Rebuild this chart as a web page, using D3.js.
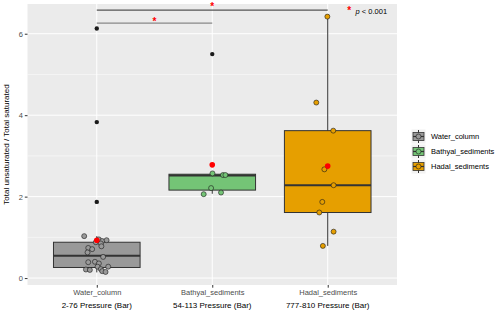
<!DOCTYPE html>
<html>
<head>
<meta charset="utf-8">
<script src="https://cdn.jsdelivr.net/npm/d3@7"></script>
<style>
  body { margin: 0; background: #fff; }
  svg { display: block; font-family: 'Liberation Sans', Arial, sans-serif; }
</style>
</head>
<body>
<div id="chart"></div>
<script>
const groups = ['Water_column', 'Bathyal_sediments', 'Hadal_sediments'];
const pressures = ['2-76 Pressure (Bar)', '54-113 Pressure (Bar)', '777-810 Pressure (Bar)'];
const fills = ['#999999', '#74c476', '#e69f00'];

// box stats: [lower whisker, q1, median, q3, upper whisker]
const boxStats = [
  [0.14, 0.26, 0.55, 0.88, 1.03],
  [2.07, 2.16, 2.52, 2.55, 2.57],
  [0.79, 1.61, 2.28, 3.62, 6.42]
];
const outliers = [[6.13, 3.83, 1.87], [5.5], []];
const means = [0.93, 2.78, 2.75];

// jittered points: [offset in category steps, value]
const waterPoints = [
  [-0.109, 1.03], [0.018, 0.95], [0.047, 0.91], [0.085, 0.93], [-0.008, 0.88],
  [0.035, 0.85], [0.040, 0.78], [-0.074, 0.74], [-0.040, 0.71], [-0.080, 0.63],
  [0.055, 0.52], [-0.074, 0.39], [-0.016, 0.40], [0.018, 0.36], [0.007, 0.28],
  [0.099, 0.28], [-0.094, 0.21], [-0.060, 0.20], [0.035, 0.22], [0.047, 0.17],
  [0.076, 0.15]
];
const bathyalPoints = [
  [-0.074, 2.06], [0.002, 2.57], [-0.010, 2.21], [0.093, 2.53], [0.114, 2.53],
  [0.076, 2.10]
];
const hadalPoints = [
  [-0.003, 6.42], [-0.099, 4.31], [0.048, 3.62], [-0.029, 2.67], [0.051, 2.28],
  [-0.047, 1.87], [-0.073, 1.61], [0.051, 1.14], [-0.042, 0.79]
];
const points = [waterPoints, bathyalPoints, hadalPoints];

const yTicks = [0, 2, 4, 6];
const yMinor = [1, 3, 5];

// significance brackets (group index, value of line, value of star)
const comparisons = [
  { from: 0, to: 1, y: 6.26, star: 6.32, stroke: '#888888' },
  { from: 0, to: 2, y: 6.58, star: 6.67, stroke: '#555555' }
];
const pLabel = 'p < 0.001';

const width = 500;
const height = 315;
const panel = { left: 27.5, right: 397, top: 4, bottom: 285 };

const svg = d3
  .select('#chart')
  .append('svg')
  .attr('width', width)
  .attr('height', height);

const x = d3
  .scalePoint()
  .domain(groups)
  .range([panel.left, panel.right])
  .padding(0.6);
const step = x.step();
const y = d3.scaleLinear().domain([-0.17, 6.73]).range([panel.bottom, panel.top]);

// panel
svg
  .append('rect')
  .attr('x', panel.left)
  .attr('y', panel.top)
  .attr('width', panel.right - panel.left)
  .attr('height', panel.bottom - panel.top)
  .attr('fill', '#ebebeb');

const grid = svg.append('g').attr('stroke', '#fff');
grid
  .selectAll('line.minor')
  .data(yMinor)
  .join('line')
  .attr('class', 'minor')
  .attr('x1', panel.left)
  .attr('x2', panel.right)
  .attr('y1', d => y(d))
  .attr('y2', d => y(d))
  .attr('stroke-width', 0.5);
grid
  .selectAll('line.major')
  .data(yTicks)
  .join('line')
  .attr('class', 'major')
  .attr('x1', panel.left)
  .attr('x2', panel.right)
  .attr('y1', d => y(d))
  .attr('y2', d => y(d))
  .attr('stroke-width', 1);
grid
  .selectAll('line.vert')
  .data(groups)
  .join('line')
  .attr('class', 'vert')
  .attr('x1', d => x(d))
  .attr('x2', d => x(d))
  .attr('y1', panel.top)
  .attr('y2', panel.bottom)
  .attr('stroke-width', 1);

// axes
const yAxis = svg
  .append('g')
  .attr('transform', `translate(${panel.left},0)`)
  .call(
    d3
      .axisLeft(y)
      .tickValues(yTicks)
      .tickFormat(d3.format('d'))
      .tickSize(2.7)
      .tickPadding(2)
  );
const xAxis = svg
  .append('g')
  .attr('transform', `translate(0,${panel.bottom})`)
  .call(d3.axisBottom(x).tickSize(2.7).tickPadding(2));
[yAxis, xAxis].forEach(g => {
  g.select('.domain').remove();
  g.selectAll('line').attr('stroke', '#333');
  g.selectAll('text')
    .attr('fill', '#4d4d4d')
    .style('font-size', '7.5px')
    .style('font-family', "'Liberation Sans', Arial, sans-serif");
});

svg
  .append('g')
  .selectAll('text')
  .data(pressures)
  .join('text')
  .attr('x', (d, i) => x(groups[i]))
  .attr('y', 308)
  .attr('text-anchor', 'middle')
  .style('font-size', '8px')
  .text(d => d);

svg
  .append('text')
  .attr('transform', `translate(9,${(panel.top + panel.bottom) / 2}) rotate(-90)`)
  .attr('text-anchor', 'middle')
  .style('font-size', '8px')
  .text('Total unsaturated / Total saturated');

// boxes
const boxW = step * 0.75;
const boxes = svg
  .append('g')
  .selectAll('g')
  .data(groups)
  .join('g');

boxes
  .append('line')
  .attr('x1', d => x(d))
  .attr('x2', d => x(d))
  .attr('y1', (d, i) => y(boxStats[i][0]))
  .attr('y2', (d, i) => y(boxStats[i][4]))
  .attr('stroke', '#333')
  .attr('stroke-width', 1);
boxes
  .append('rect')
  .attr('x', d => x(d) - boxW / 2)
  .attr('width', boxW)
  .attr('y', (d, i) => y(boxStats[i][3]))
  .attr('height', (d, i) => y(boxStats[i][1]) - y(boxStats[i][3]))
  .attr('fill', (d, i) => fills[i])
  .attr('stroke', '#333')
  .attr('stroke-width', 1);
boxes
  .append('line')
  .attr('x1', d => x(d) - boxW / 2)
  .attr('x2', d => x(d) + boxW / 2)
  .attr('y1', (d, i) => y(boxStats[i][2]))
  .attr('y2', (d, i) => y(boxStats[i][2]))
  .attr('stroke', '#333')
  .attr('stroke-width', 2);

boxes
  .selectAll('circle.outlier')
  .data((d, i) => outliers[i].map(v => [d, v]))
  .join('circle')
  .attr('class', 'outlier')
  .attr('cx', d => x(d[0]))
  .attr('cy', d => y(d[1]))
  .attr('r', 2.2)
  .attr('fill', '#1a1a1a');

boxes
  .selectAll('circle.pt')
  .data((d, i) => points[i].map(p => [d, p[0], p[1], fills[i]]))
  .join('circle')
  .attr('class', 'pt')
  .attr('cx', d => x(d[0]) + d[1] * step)
  .attr('cy', d => y(d[2]))
  .attr('r', 2.5)
  .attr('fill', d => d[3])
  .attr('stroke', '#1a1a1a')
  .attr('stroke-width', 0.6);

boxes
  .append('circle')
  .attr('cx', d => x(d))
  .attr('cy', (d, i) => y(means[i]))
  .attr('r', 2.8)
  .attr('fill', '#ff0000');

// significance brackets
const sig = svg.append('g');
sig
  .selectAll('line')
  .data(comparisons)
  .join('line')
  .attr('x1', d => x(groups[d.from]))
  .attr('x2', d => x(groups[d.to]))
  .attr('y1', d => y(d.y))
  .attr('y2', d => y(d.y))
  .attr('stroke', d => d.stroke)
  .attr('stroke-width', 1.2);
sig
  .selectAll('text')
  .data(comparisons)
  .join('text')
  .attr('x', d => (x(groups[d.from]) + x(groups[d.to])) / 2)
  .attr('y', d => y(d.star) + 4)
  .attr('text-anchor', 'middle')
  .attr('fill', '#ff0000')
  .style('font-size', '10px')
  .style('font-weight', 'bold')
  .text('*');

const pText = svg
  .append('text')
  .attr('x', x(groups[2]) + 0.19 * step - 2.5)
  .attr('y', y(6.56) + 3.5)
  .style('font-size', '7.5px');
pText
  .append('tspan')
  .attr('fill', '#ff0000')
  .style('font-size', '10px')
  .style('font-weight', 'bold')
  .text('*');
pText.append('tspan').attr('dx', 4.5).style('font-style', 'italic').text('p');
pText.append('tspan').text(pLabel.slice(1));

// legend
const legend = svg
  .append('g')
  .attr('transform', 'translate(411.5,129.5)')
  .selectAll('g')
  .data(groups)
  .join('g')
  .attr('transform', (d, i) => `translate(0,${i * 15})`);
legend
  .append('rect')
  .attr('width', 14)
  .attr('height', 14)
  .attr('fill', '#f2f2f2');
legend
  .append('line')
  .attr('x1', 7)
  .attr('x2', 7)
  .attr('y1', 0.5)
  .attr('y2', 13.5)
  .attr('stroke', '#333');
legend
  .append('rect')
  .attr('x', 1.5)
  .attr('y', 3)
  .attr('width', 11)
  .attr('height', 8)
  .attr('fill', (d, i) => fills[i])
  .attr('stroke', '#333')
  .attr('stroke-width', 0.8);
legend
  .append('line')
  .attr('x1', 1.5)
  .attr('x2', 12.5)
  .attr('y1', 7)
  .attr('y2', 7)
  .attr('stroke', '#333')
  .attr('stroke-width', 1.2);
legend
  .append('circle')
  .attr('cx', 7)
  .attr('cy', 7)
  .attr('r', 2.5)
  .attr('fill', (d, i) => fills[i])
  .attr('stroke', '#1a1a1a')
  .attr('stroke-width', 0.6);
legend
  .append('text')
  .attr('x', 19.5)
  .attr('y', 7)
  .attr('dy', '0.35em')
  .style('font-size', '7.5px')
  .text(d => d);
</script>
</body>
</html>
